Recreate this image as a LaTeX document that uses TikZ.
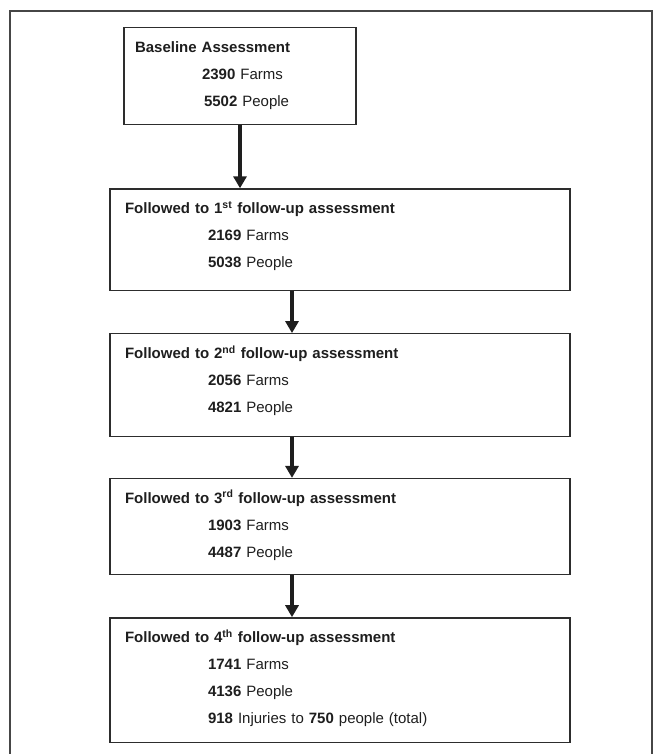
\documentclass[tikz,border=0pt]{standalone}
\usepackage{fontspec}
\setmainfont{Liberation Sans}
\usetikzlibrary{arrows.meta,positioning}
\definecolor{boxline}{RGB}{45,45,45}
\definecolor{frameline}{RGB}{70,70,70}
\definecolor{inktext}{RGB}{30,30,30}

\begin{document}
\begin{tikzpicture}[
  x=1pt, y=1pt,
  node distance=42pt,
  stage/.style={draw=boxline, line width=1.3pt, text=inktext,
                inner ysep=0pt, inner xsep=15pt,
                text width=430pt, align=left, text height=24.5pt,
                font=\fontsize{15}{27}\selectfont},
  arr/.style={-{Triangle[length=12pt,width=13pt]}, line width=3.5pt, inktext}
]
\useasboundingbox (0,0) rectangle (655,-754);
\draw[frameline, line width=1.2pt] (10,-754) -- (10,-11) -- (652,-11) -- (652,-754);

\node[stage, inner xsep=11pt, text width=210pt, text depth=72.5pt, anchor=north] (s0) at (240,-27)
  {\textbf{Baseline Assessment}\\
   \hspace*{67pt}\textbf{2390} Farms\\
   \hspace*{69pt}\textbf{5502} People};
\node[stage, text depth=77pt, below=63pt of s0, xshift=100pt] (s1)
  {\textbf{Followed to 1\textsuperscript{st} follow-up assessment}\\
   \hspace*{83pt}\textbf{2169} Farms\\
   \hspace*{83pt}\textbf{5038} People};
\node[stage, text depth=78pt, below=of s1] (s2)
  {\textbf{Followed to 2\textsuperscript{nd} follow-up assessment}\\
   \hspace*{83pt}\textbf{2056} Farms\\
   \hspace*{83pt}\textbf{4821} People};
\node[stage, text depth=71.5pt, below=41pt of s2] (s3)
  {\textbf{Followed to 3\textsuperscript{rd} follow-up assessment}\\
   \hspace*{83pt}\textbf{1903} Farms\\
   \hspace*{83pt}\textbf{4487} People};
\node[stage, text depth=100pt, below=of s3] (s4)
  {\textbf{Followed to 4\textsuperscript{th} follow-up assessment}\\
   \hspace*{83pt}\textbf{1741} Farms\\
   \hspace*{83pt}\textbf{4136} People\\
   \hspace*{83pt}\textbf{918} Injuries to \textbf{750} people (total)};

\coordinate (ax) at (292,0);
\draw[arr] (s0.south) -- (s0.south |- s1.north);
\foreach \a/\b in {s1/s2,s2/s3,s3/s4}
  \draw[arr] (\a.south -| ax) -- (\b.north -| ax);
\end{tikzpicture}
\end{document}
